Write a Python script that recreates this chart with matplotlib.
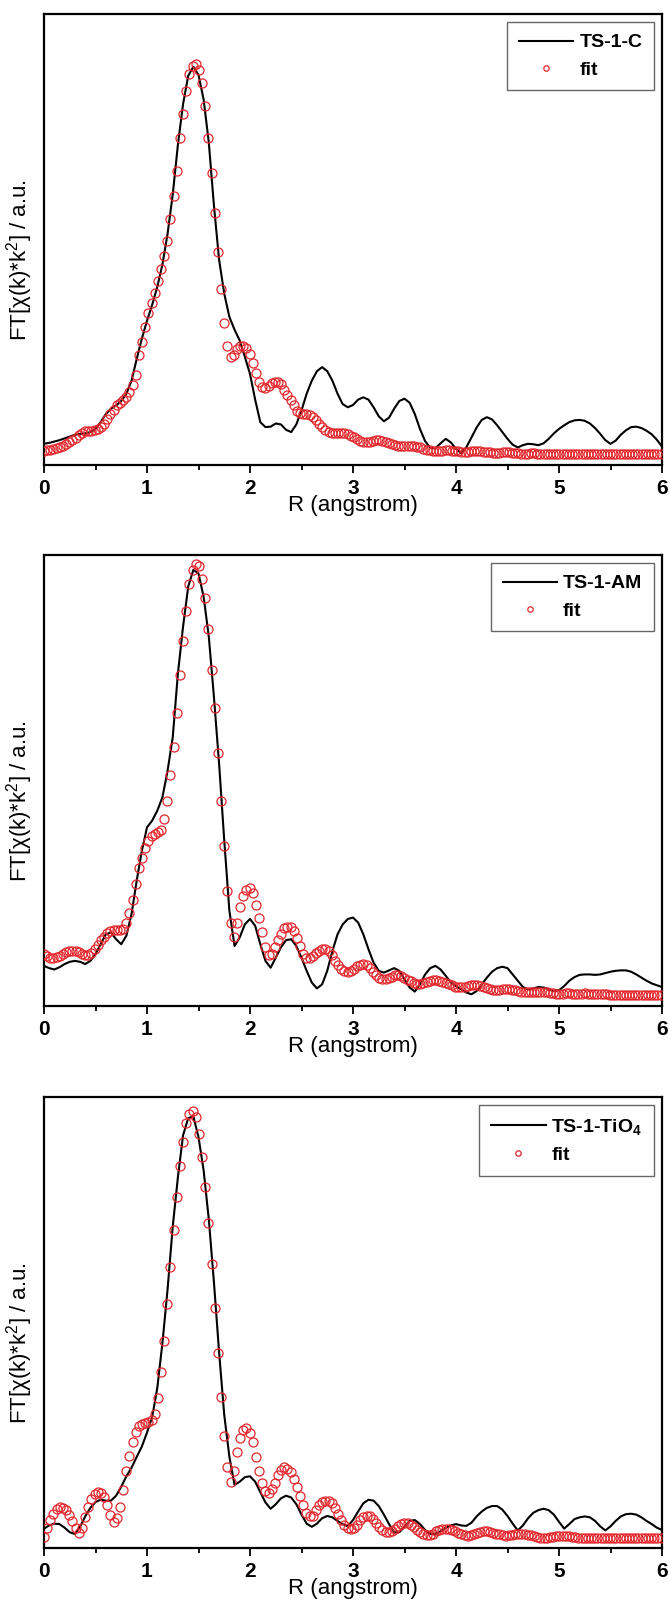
import numpy as np
import matplotlib
matplotlib.use('Agg')
import matplotlib.pyplot as plt
from matplotlib.ticker import MultipleLocator

plt.rcParams['font.family'] = ['Liberation Sans', 'DejaVu Sans']
plt.rcParams['mathtext.fontset'] = 'custom'
plt.rcParams['mathtext.rm'] = 'Liberation Sans'
plt.rcParams['mathtext.it'] = 'Liberation Sans:italic'
plt.rcParams['mathtext.bf'] = 'Liberation Sans:bold'

# ---------------- data ----------------
samples = ['TS-1-C', 'TS-1-AM', r'TS-1-TiO$_\mathbf{4}$']
fit_label = 'fit'
xtick_values = [0, 1, 2, 3, 4, 5, 6]
xtick_labels = ['0', '1', '2', '3', '4', '5', '6']
x_label = 'R (angstrom)'
y_label = r'FT[χ(k)*k$^{2}$] / a.u.'

# experimental FT magnitude, sampled every 0.05 angstrom from R = 0 to 6 (a.u.)
line_step = 0.05
ts1c_data = [
    4.7, 4.9, 5.2, 5.5, 5.9, 6.3, 6.7, 6.9, 7.0, 7.3,
    8.0, 9.5, 11.3, 12.5, 13.2, 14.2, 15.8, 18.7, 23.5, 28.0,
    32.0, 35.5, 39.5, 44.5, 51.3, 60.0, 71.0, 80.0, 86.3, 88.3,
    86.5, 81.0, 71.5, 57.5, 45.5, 38.0, 32.8, 30.0, 27.6, 24.0,
    20.2, 14.5, 9.5, 8.4, 8.5, 9.2, 9.0, 7.8, 7.3, 9.0,
    12.1, 15.8, 18.7, 20.8, 21.7, 20.8, 18.7, 15.8, 13.5, 12.8,
    13.3, 14.5, 15.0, 14.5, 12.8, 10.8, 9.7, 10.5, 12.5, 14.2,
    14.7, 13.8, 11.3, 8.0, 5.3, 3.8, 3.7, 4.8, 5.8, 5.0,
    3.6, 2.6, 3.9, 6.1, 8.3, 10.0, 10.6, 10.1, 8.8, 7.3,
    5.8, 4.5, 3.9, 4.4, 4.7, 4.6, 4.4, 4.8, 5.8, 7.0,
    8.0, 8.8, 9.5, 9.9, 10.0, 9.8, 9.2, 8.2, 6.9, 5.5,
    4.7, 5.4, 6.7, 7.7, 8.4, 8.5, 8.2, 7.6, 6.8, 5.6,
    4.1]
ts1am_data = [
    8.9, 8.4, 8.1, 8.6, 9.3, 9.8, 10.0, 9.8, 9.3, 10.0,
    11.5, 13.7, 15.9, 16.3, 14.8, 13.7, 15.6, 20.4, 27.8, 34.4,
    39.6, 41.1, 43.3, 46.3, 52.2, 59.6, 73.7, 84.1, 93.0, 96.7,
    95.9, 90.7, 81.9, 68.5, 53.7, 36.7, 21.1, 13.3, 15.2, 18.1,
    19.3, 17.8, 13.7, 10.0, 8.5, 10.7, 13.0, 14.6, 14.8, 13.3,
    10.7, 7.8, 5.2, 3.9, 4.8, 7.8, 12.2, 15.9, 18.1, 19.3,
    19.6, 18.5, 15.9, 12.6, 9.6, 7.8, 7.4, 7.9, 8.4, 7.8,
    5.9, 4.1, 3.2, 4.8, 7.0, 8.4, 8.9, 8.1, 6.7, 5.2,
    4.4, 3.7, 3.0, 2.6, 3.3, 4.8, 6.3, 7.6, 8.4, 8.7,
    8.4, 7.0, 5.6, 4.2, 3.7, 3.9, 4.2, 4.1, 3.7, 3.3,
    3.5, 4.4, 5.6, 6.4, 6.9, 7.0, 7.0, 6.9, 7.0, 7.3,
    7.6, 7.8, 7.9, 7.9, 7.6, 7.0, 6.3, 5.6, 5.0, 4.6,
    4.2]
ts1tio4_data = [
    4.3, 5.0, 5.4, 5.3, 4.5, 3.5, 3.1, 4.7, 7.0, 8.9,
    10.2, 10.7, 10.5, 10.5, 11.6, 13.6, 15.9, 17.8, 20.2, 22.5,
    25.6, 29.0, 35.5, 45.5, 57.4, 71.3, 82.2, 91.5, 95.3, 95.7,
    91.1, 83.7, 72.9, 58.9, 43.4, 29.5, 20.2, 14.0, 14.7, 15.7,
    15.9, 14.7, 12.4, 10.1, 8.7, 9.7, 11.0, 11.6, 11.2, 9.7,
    7.4, 5.4, 4.7, 5.4, 6.6, 7.1, 6.8, 6.0, 5.3, 4.8,
    6.2, 8.1, 9.9, 10.7, 10.5, 9.3, 7.4, 5.3, 3.5, 3.5,
    4.7, 6.0, 6.2, 5.3, 4.0, 3.1, 3.1, 3.7, 4.5, 5.0,
    5.3, 5.0, 4.9, 5.6, 7.0, 8.1, 8.9, 9.3, 9.3, 8.5,
    7.1, 5.4, 3.9, 5.0, 6.6, 7.8, 8.4, 8.7, 8.4, 7.4,
    5.8, 4.3, 5.3, 6.4, 6.8, 7.0, 6.8, 6.0, 4.8, 3.9,
    4.8, 6.0, 7.0, 7.5, 7.6, 7.4, 6.8, 6.0, 5.3, 4.5,
    4.0]

# fit, sampled on the fit R grid (0.0307 angstrom)
fit_step = 0.0307
ts1c_fit = [
    3.2, 3.3, 3.4, 3.6, 3.8, 4.0, 4.3, 4.7, 5.1, 5.5,
    6.0, 6.6, 7.2, 7.5, 7.6, 7.6, 7.7, 7.9, 8.4, 9.2,
    10.3, 11.3, 12.3, 13.2, 13.8, 14.4, 15.0, 16.2, 17.8, 20.0,
    24.4, 27.3, 30.6, 33.7, 35.9, 38.1, 40.7, 43.4, 46.4, 49.7,
    54.6, 59.7, 65.2, 72.6, 77.9, 83.0, 86.8, 88.4, 89.0, 87.6,
    84.8, 79.5, 72.5, 64.8, 55.9, 47.3, 39.0, 31.5, 26.3, 24.0,
    24.5, 25.8, 26.4, 26.4, 26.0, 24.6, 22.6, 20.5, 18.5, 17.2,
    17.0, 17.6, 18.2, 18.5, 18.5, 17.9, 16.6, 15.5, 14.4, 13.3,
    12.0, 11.5, 11.3, 11.2, 11.0, 10.6, 10.0, 9.2, 8.4, 7.8,
    7.4, 7.2, 7.0, 7.0, 7.1, 7.1, 6.8, 6.5, 6.1, 5.7,
    5.3, 5.0, 5.0, 5.1, 5.3, 5.5, 5.6, 5.4, 5.1, 4.8,
    4.6, 4.4, 4.2, 4.2, 4.2, 4.3, 4.3, 4.2, 4.1, 3.9,
    3.6, 3.4, 3.3, 3.2, 3.1, 3.1, 3.2, 3.3, 3.3, 3.2,
    3.1, 3.0, 2.9, 2.8, 2.9, 3.0, 3.1, 3.1, 3.0, 2.9,
    2.8, 2.8, 2.7, 2.7, 2.7, 2.8, 2.8, 2.8, 2.7, 2.6,
    2.6, 2.5, 2.5, 2.5, 2.6, 2.6, 2.5, 2.5, 2.4, 2.4,
    2.4, 2.4, 2.5, 2.5, 2.4, 2.4, 2.4, 2.4, 2.5, 2.5,
    2.4, 2.4, 2.4, 2.5, 2.5, 2.4, 2.4, 2.4, 2.5, 2.5,
    2.4, 2.4, 2.4, 2.5, 2.5, 2.4, 2.4, 2.4, 2.5, 2.5,
    2.4, 2.4, 2.5, 2.5, 2.4, 2.4]
ts1am_fit = [
    11.5, 11.0, 10.7, 10.6, 10.8, 11.1, 11.5, 11.9, 12.1, 12.2,
    12.1, 11.9, 11.6, 11.3, 11.3, 11.8, 12.6, 13.6, 14.6, 15.3,
    16.1, 16.6, 16.8, 16.8, 16.8, 17.1, 18.4, 20.6, 23.5, 27.0,
    30.5, 32.8, 35.0, 36.6, 37.6, 38.2, 38.5, 39.0, 41.5, 45.5,
    51.2, 57.5, 65.0, 73.5, 80.9, 87.6, 93.5, 96.6, 97.9, 97.5,
    94.6, 90.5, 83.5, 74.5, 66.0, 56.0, 45.5, 35.5, 25.6, 18.3,
    15.2, 18.5, 22.0, 24.3, 25.8, 26.1, 25.0, 22.3, 19.5, 16.5,
    13.0, 11.3, 11.6, 13.0, 14.6, 16.0, 17.2, 17.6, 17.5, 16.7,
    15.0, 13.4, 11.6, 10.7, 10.7, 11.0, 11.7, 12.3, 12.6, 12.6,
    12.2, 11.2, 10.0, 9.0, 8.3, 7.8, 7.6, 7.8, 8.2, 8.8,
    9.1, 9.3, 9.0, 8.4, 7.6, 6.8, 6.2, 5.9, 5.9, 6.2,
    6.5, 6.8, 6.8, 6.6, 6.3, 5.8, 5.5, 5.1, 4.8, 4.8,
    5.0, 5.3, 5.6, 5.7, 5.7, 5.5, 5.3, 5.0, 4.8, 4.6,
    4.3, 4.2, 4.2, 4.2, 4.4, 4.6, 4.7, 4.7, 4.5, 4.3,
    4.0, 3.8, 3.6, 3.5, 3.6, 3.7, 3.7, 3.7, 3.6, 3.5,
    3.4, 3.2, 3.1, 3.0, 3.0, 3.0, 3.0, 3.0, 3.0, 3.0,
    2.9, 2.8, 2.7, 2.7, 2.7, 2.8, 2.8, 2.7, 2.7, 2.7,
    2.7, 2.8, 2.7, 2.7, 2.6, 2.6, 2.7, 2.6, 2.6, 2.5,
    2.5, 2.5, 2.5, 2.4, 2.4, 2.4, 2.4, 2.4, 2.4, 2.4,
    2.4, 2.4, 2.4, 2.4, 2.4, 2.4]
ts1tio4_fit = [
    2.5, 4.5, 6.2, 7.6, 8.6, 9.1, 8.9, 8.4, 7.4, 6.0,
    4.5, 3.4, 4.5, 6.9, 9.2, 10.9, 12.0, 12.4, 12.2, 11.2,
    9.5, 7.3, 5.8, 6.6, 9.0, 12.8, 17.1, 20.3, 23.4, 25.8,
    27.1, 27.6, 27.7, 27.9, 28.3, 29.8, 33.2, 39.0, 46.0, 54.2,
    62.4, 70.5, 77.8, 84.7, 90.0, 94.2, 96.3, 96.9, 95.5, 91.9,
    86.8, 80.0, 72.0, 63.0, 53.3, 43.3, 33.5, 24.8, 18.0, 14.7,
    17.0, 21.2, 24.4, 26.2, 26.5, 25.4, 23.4, 20.2, 17.1, 14.5,
    12.7, 12.2, 13.0, 14.5, 16.2, 17.3, 18.0, 17.6, 16.8, 15.2,
    13.5, 11.6, 9.6, 7.8, 7.0, 7.2, 8.4, 9.6, 10.1, 10.4,
    10.4, 9.9, 8.9, 7.6, 6.2, 5.1, 4.5, 4.3, 4.5, 5.2,
    6.1, 6.8, 7.1, 7.0, 6.5, 5.6, 4.7, 3.9, 3.5, 3.5,
    3.8, 4.3, 4.9, 5.4, 5.6, 5.5, 5.2, 4.7, 4.1, 3.6,
    3.2, 2.9, 2.9, 3.2, 3.7, 4.0, 4.2, 4.3, 4.3, 4.1,
    3.8, 3.4, 3.0, 2.8, 2.7, 2.8, 3.1, 3.4, 3.6, 3.7,
    3.7, 3.6, 3.4, 3.2, 3.0, 2.8, 2.7, 2.8, 2.9, 3.0,
    3.1, 3.1, 3.0, 2.9, 2.8, 2.6, 2.4, 2.3, 2.2, 2.3,
    2.4, 2.5, 2.6, 2.7, 2.7, 2.7, 2.6, 2.5, 2.4, 2.3,
    2.2, 2.2, 2.2, 2.3, 2.3, 2.3, 2.3, 2.3, 2.2, 2.2,
    2.2, 2.2, 2.2, 2.2, 2.2, 2.2, 2.2, 2.2, 2.2, 2.2,
    2.2, 2.2, 2.2, 2.3, 2.3, 2.3]

data_series = [ts1c_data, ts1am_data, ts1tio4_data]
fit_series = [ts1c_fit, ts1am_fit, ts1tio4_fit]

# ---------------- figure ----------------
W, H = 670, 1609
fig = plt.figure(figsize=(W / 100, H / 100), dpi=100)
left_px, right_px = 44, 662
axes_h = 451
tops = [14, 555, 1097]

for i in range(3):
    top = tops[i]
    ax = fig.add_axes([left_px / W, 1 - (top + axes_h) / H,
                       (right_px - left_px) / W, axes_h / H])
    yd = np.array(data_series[i])
    yf = np.array(fit_series[i])
    r_line = np.arange(len(yd)) * line_step
    r_fit = np.arange(len(yf)) * fit_step
    ax.plot(r_line, yd, color='black', lw=1.5, label=samples[i], zorder=2)
    ax.plot(r_fit, yf, ls='none', marker='o', ms=6.5, mfc='none',
            mec='#e3262b', mew=0.9, label=fit_label, zorder=3)
    ax.set_xlim(0, 6)
    ax.set_ylim(0, 100)
    ax.set_yticks([])
    ax.set_xticks(xtick_values)
    ax.set_xticklabels(xtick_labels, fontweight='bold', fontsize=15)
    ax.xaxis.set_minor_locator(MultipleLocator(0.5))
    ax.tick_params(axis='x', which='major', direction='out', length=5.8,
                   width=1.3, pad=4)
    ax.tick_params(axis='x', which='minor', direction='out', length=3.5,
                   width=1.3)
    for sp in ax.spines.values():
        sp.set_linewidth(1.6)
    ax.set_xlabel(x_label, fontsize=16, labelpad=-2)
    ax.set_ylabel(y_label, fontsize=16)
    ax.yaxis.set_label_coords(-0.014, 0.455)
    leg = ax.legend(loc='upper right', bbox_to_anchor=(0.987, 0.982),
                    borderaxespad=0, prop={'weight': 'bold', 'size': 14},
                    frameon=True, fancybox=False, edgecolor='#666666',
                    markerscale=0.6, handlelength=2.8, handletextpad=0.3,
                    labelspacing=0.5, borderpad=0.6, framealpha=1)
    leg.get_frame().set_linewidth(1.0)

fig.savefig('out.png', dpi=100)
